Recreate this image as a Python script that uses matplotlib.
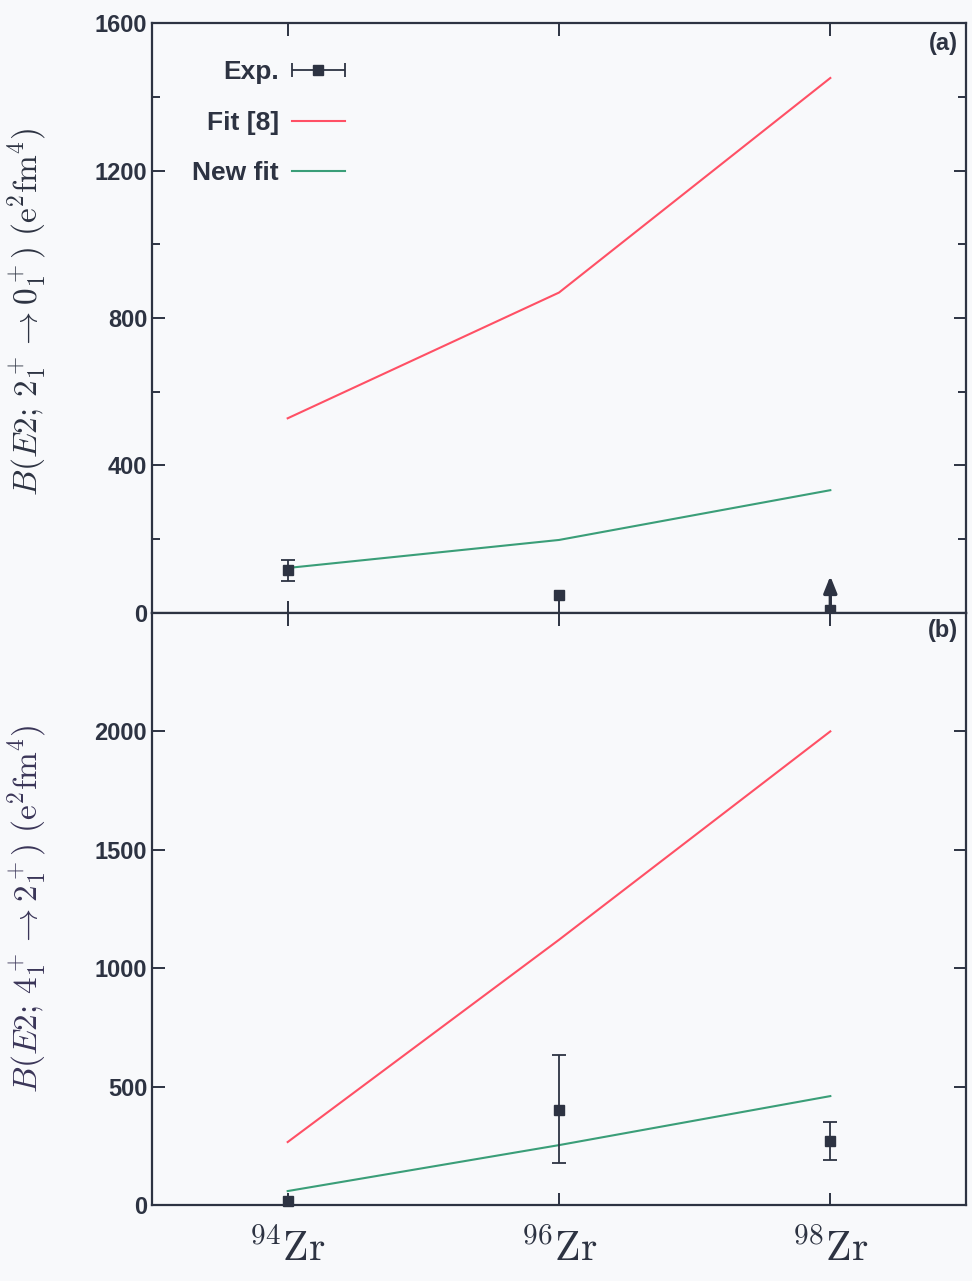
import numpy as np
import matplotlib.pyplot as plt
from matplotlib.ticker import MultipleLocator
from matplotlib.legend_handler import HandlerErrorbar

plt.rcParams['font.family'] = ['Liberation Sans', 'DejaVu Sans']
plt.rcParams['mathtext.fontset'] = 'cm'

# isotopes
nuclei = [r'$^{94}\mathrm{Zr}$', r'$^{96}\mathrm{Zr}$', r'$^{98}\mathrm{Zr}$']
x = np.arange(len(nuclei))

# (a) B(E2; 2+ -> 0+)
fit8_a = [528, 869, 1451]
newfit_a = [122, 198, 333]
exp_a = [116, 49, 8]
exp_a_err = [28, 0, 0]
limit_a_top = 100  # lower limit arrow for 98Zr

# (b) B(E2; 4+ -> 2+)
fit8_b = [266, 1120, 2000]
newfit_b = [59, 253, 460]
exp_b = [17, 401, 270]
exp_b_lo = [0, 224, 80]
exp_b_hi = [0, 232, 80]

ink = '#2d3342'
red = '#ff5065'
green = '#3a9e78'
eb = dict(fmt='s', color=ink, ms=6.5, capsize=5, elinewidth=1.3, capthick=1.3)

fig = plt.figure(figsize=(9.72, 12.81), dpi=100)
fig.patch.set_facecolor('#f8f9fb')
L, W = 0.1564, 0.8374
ax1 = fig.add_axes([L, 0.5215, W, 0.982 - 0.5215])
ax2 = fig.add_axes([L, 0.0593, W, 0.5215 - 0.0593])

for ax in (ax1, ax2):
    ax.set_facecolor('#f8f9fb')
    ax.set_xlim(-0.5, 2.5)
    ax.set_xticks(x)
    for s in ax.spines.values():
        s.set_color(ink)
        s.set_linewidth(1.6)
    ax.tick_params(which='both', direction='in', color=ink, width=1.4,
                   top=True, right=True, labelcolor=ink, labelsize=17)
    ax.tick_params(which='major', length=9)
    ax.tick_params(which='minor', length=6)
    for t in ax.get_yticklabels():
        t.set_fontweight('bold')

# panel (a)
ax1.plot(x, fit8_a, color=red, lw=1.5, label='Fit [8]')
ax1.plot(x, newfit_a, color=green, lw=1.5, label='New fit')
ea = np.array(exp_a_err)
m = ea > 0
ax1.errorbar(x[m], np.array(exp_a)[m], yerr=ea[m], **eb)
ax1.plot(x[~m], np.array(exp_a)[~m], 's', color=ink, ms=6.5)
ax1.annotate('', xy=(x[2], limit_a_top), xytext=(x[2], exp_a[2]),
             arrowprops=dict(arrowstyle='-|>,head_width=0.4,head_length=1.0',
                             color=ink, lw=2.4, shrinkA=0, shrinkB=0))
ax1.set_ylim(0, 1600)
ax1.yaxis.set_major_locator(MultipleLocator(400))
ax1.yaxis.set_minor_locator(MultipleLocator(200))
ax1.set_xticklabels([])
ax1.set_ylabel(r'$B(E2;\,2^+_1\rightarrow 0^+_1)\ (\mathrm{e^2fm^4})$',
               fontsize=24, color=ink)
ax1.yaxis.set_label_coords(-0.128, 0.51)
ax1.text(0.99, 0.985, '(a)', transform=ax1.transAxes, ha='right', va='top',
         fontsize=17, fontweight='bold', color=ink)

# legend proxy with horizontal error bar
proxy = ax1.errorbar([np.nan], [np.nan], xerr=[1], label='Exp.', **eb)
h, lab = ax1.get_legend_handles_labels()
order = [lab.index('Exp.'), lab.index('Fit [8]'), lab.index('New fit')]
leg = ax1.legend([h[i] for i in order], [lab[i] for i in order], loc='upper left',
                 bbox_to_anchor=(0.02, 0.977), frameon=False, markerfirst=False,
                 fontsize=19, handlelength=2.0, handletextpad=0.5,
                 labelspacing=1.0, labelcolor=ink,
                 handler_map={proxy: HandlerErrorbar(xerr_size=1.0)})
for t in leg.get_texts():
    t.set_fontweight('bold')

# panel (b)
ax2.plot(x, fit8_b, color=red, lw=1.5)
ax2.plot(x, newfit_b, color=green, lw=1.5)
lo = np.array(exp_b_lo)
hi = np.array(exp_b_hi)
yb = np.array(exp_b)
m = (lo + hi) > 0
ax2.errorbar(x[m], yb[m], yerr=[lo[m], hi[m]], **eb)
ax2.plot(x[~m], yb[~m], 's', color=ink, ms=7, clip_on=False, zorder=5)
ax2.set_ylim(0, 2500)
ax2.set_yticks([0, 500, 1000, 1500, 2000])
for t in ax2.get_yticklabels():
    t.set_fontweight('bold')
ax2.set_xticklabels(nuclei, fontsize=30, color=ink)
ax2.tick_params(axis='x', pad=18)
ax2.set_ylabel(r'$B(E2;\,4^+_1\rightarrow 2^+_1)\ (\mathrm{e^2fm^4})$',
               fontsize=24, color='#3a3558')
ax2.yaxis.set_label_coords(-0.128, 0.5)
ax2.text(0.99, 0.99, '(b)', transform=ax2.transAxes, ha='right', va='top',
         fontsize=17, fontweight='bold', color=ink)

fig.savefig('out.png', dpi=100, facecolor=fig.get_facecolor())
